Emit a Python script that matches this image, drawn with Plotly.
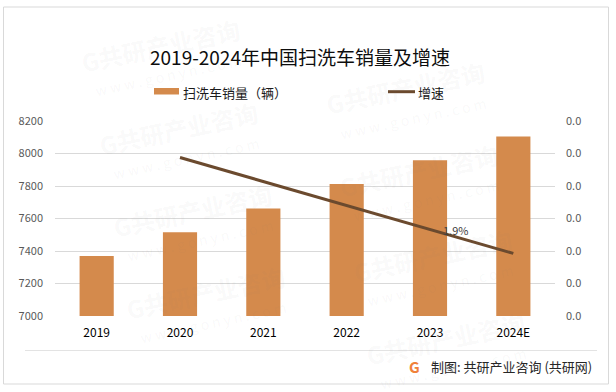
import numpy as np
import plotly.graph_objects as go

# ---------------- data ----------------
years = ["2019", "2020", "2021", "2022", "2023", "2024E"]
sales = [7369, 7516, 7662, 7812, 7958, 8105]
growth = [None, 0.0202, 0.0198, 0.0194, 0.0190, 0.0186]
growth_labels = ["", "", "", "", "1.9%", ""]
left_ticks = [7000, 7200, 7400, 7600, 7800, 8000, 8200]

title_text = "2019-2024年中国扫洗车销量及增速"
legend_bar = "扫洗车销量（辆）"
legend_line = "增速"
source_text = "制图: 共研产业咨询 (共研网)"

# ---------------- style ----------------
W, H = 616, 392
ML, MR, MT, MB = 55, 61, 121, 76
PW, PH = W - ML - MR, H - MT - MB
BAR_C = "#D48A4C"
LINE_C = "#6B4A2E"
GRID_C = "#D9D9D9"
FONT = "Noto Sans CJK SC"

def px(x):
    return (x - ML) / PW

def py(y):
    return (H - MB - y) / PH

r_lo, r_hi = 0.017555, 0.02081

fig = go.Figure()
fig.add_trace(go.Bar(x=years, y=sales, marker=dict(color=BAR_C, line=dict(width=0)),
                     width=0.41, showlegend=False, yaxis="y", hoverinfo="skip"))
fig.add_trace(go.Scatter(x=years, y=growth, mode="lines", line=dict(color=LINE_C, width=3),
                         showlegend=False, yaxis="y2", connectgaps=False, hoverinfo="skip"))

annotations = []
for i, (g, lab) in enumerate(zip(growth, growth_labels)):
    if lab:
        annotations.append(dict(x=i, y=g, xref="x", yref="y2", text=lab, showarrow=False,
                                xanchor="left", yanchor="middle", xshift=11, yshift=-1,
                                font=dict(family=FONT, size=11, color="#404040")))

# watermarks (decoration)
wm_centers = [(160, 45), (178, 128), (192, 210), (205, 292),
              (405, 88), (418, 170), (432, 255), (445, 338)]
for cx, cy in wm_centers:
    annotations.append(dict(x=px(cx), y=py(cy), xref="paper", yref="paper",
                            text="<b>G共研产业咨询</b>", showarrow=False, textangle=-12,
                            xanchor="center", yanchor="middle",
                            font=dict(family=FONT, size=24, color="rgba(120,120,120,0.05)")))
    annotations.append(dict(x=px(cx + 8), y=py(cy + 30), xref="paper", yref="paper",
                            text="w w w . g o n y n . c o m", showarrow=False, textangle=-12,
                            xanchor="center", yanchor="middle",
                            font=dict(family=FONT, size=14, color="rgba(120,120,120,0.05)")))

# title
annotations.append(dict(x=px(299.5), y=py(56), xref="paper", yref="paper", text=title_text,
                        showarrow=False, xanchor="center", yanchor="middle",
                        font=dict(family=FONT, size=19, color="#0D0D0D")))
# legend texts
annotations.append(dict(x=px(181), y=py(92), xref="paper", yref="paper", text=legend_bar,
                        showarrow=False, xanchor="left", yanchor="middle",
                        font=dict(family=FONT, size=13, color="#1A1A1A")))
annotations.append(dict(x=px(416), y=py(92), xref="paper", yref="paper", text=legend_line,
                        showarrow=False, xanchor="left", yanchor="middle",
                        font=dict(family=FONT, size=13, color="#1A1A1A")))
# source
annotations.append(dict(x=px(414), y=py(366), xref="paper", yref="paper", text="<b>G</b>",
                        showarrow=False, xanchor="center", yanchor="middle",
                        font=dict(family=FONT, size=15, color="#F0813A")))
annotations.append(dict(x=px(429), y=py(366), xref="paper", yref="paper", text=source_text,
                        showarrow=False, xanchor="left", yanchor="middle",
                        font=dict(family=FONT, size=13, color="#262626")))

shapes = [
    dict(type="rect", xref="paper", yref="paper", x0=px(3.5), x1=px(608.5), y0=py(7), y1=py(384),
         line=dict(color=GRID_C, width=1), fillcolor="rgba(0,0,0,0)", layer="below"),
    dict(type="line", xref="paper", yref="paper", x0=px(25), x1=px(597), y0=py(350.5), y1=py(350.5),
         line=dict(color="#E3E3E3", width=1)),
    dict(type="rect", xref="paper", yref="paper", x0=px(154), x1=px(179), y0=py(88), y1=py(94.5),
         line=dict(width=0), fillcolor=BAR_C),
    dict(type="line", xref="paper", yref="paper", x0=px(388), x1=px(415), y0=py(91.7), y1=py(91.7),
         line=dict(color=LINE_C, width=3)),
]

fig.update_layout(
    width=W, height=H,
    margin=dict(l=ML, r=MR, t=MT, b=MB, pad=0),
    paper_bgcolor="white", plot_bgcolor="white",
    font=dict(family=FONT),
    hovermode=False,
    xaxis=dict(type="category", range=[-0.5, 5.5], autorange=False, showgrid=False,
               showline=False, ticks="", zeroline=False,
               tickfont=dict(family=FONT, size=12, color="#000000"), ticklabelstandoff=8),
    yaxis=dict(range=[7000, 8200], tickvals=left_ticks, showgrid=True, gridcolor=GRID_C,
               gridwidth=1, zeroline=False, showline=False, ticks="",
               tickfont=dict(family=FONT, size=11, color="#595959"), ticklabelstandoff=11),
    yaxis2=dict(range=[r_lo, r_hi], overlaying="y", side="right",
                tickvals=list(np.linspace(r_lo, r_hi, 7)), tickformat=".1f",
                showgrid=False, zeroline=False, showline=False, ticks="",
                tickfont=dict(family=FONT, size=11, color="#595959"), ticklabelstandoff=10),
    annotations=annotations,
    shapes=shapes,
    showlegend=False,
)

fig.write_html("out.html", config={"displayModeBar": False},
               post_script="document.body.style.margin='0';document.body.style.overflow='hidden';")
